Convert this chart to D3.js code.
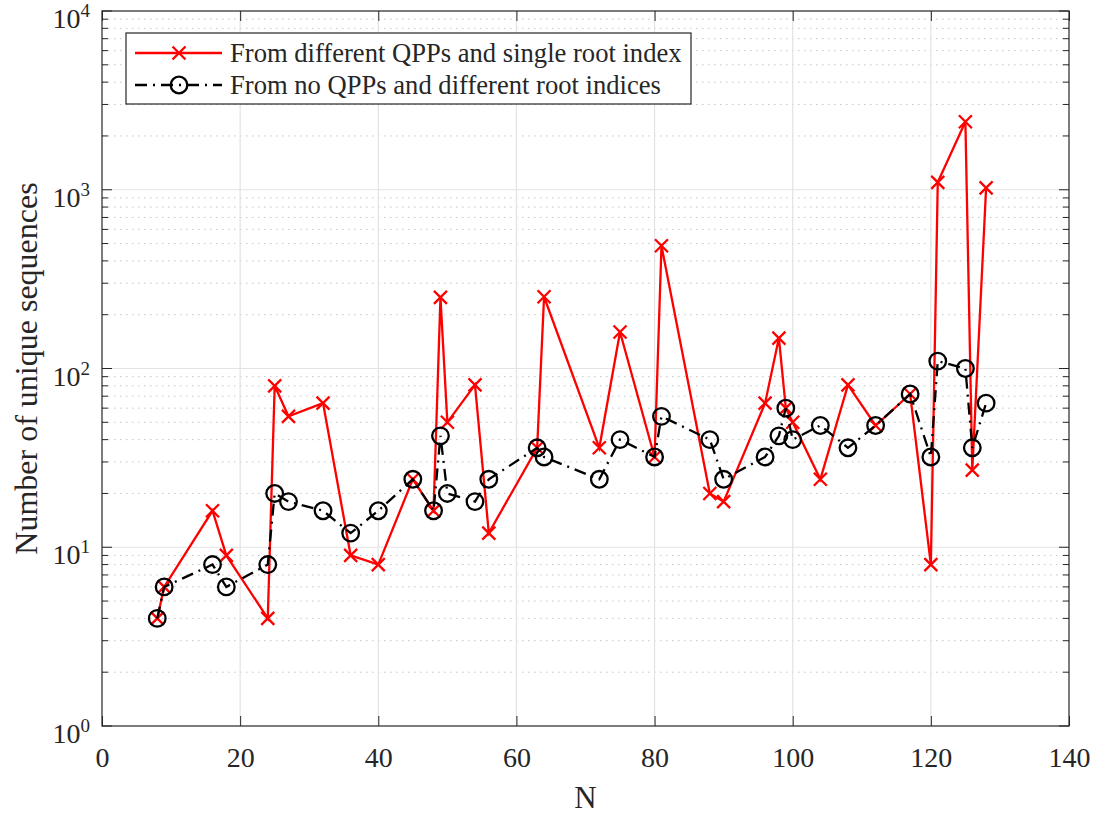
<!DOCTYPE html>
<html>
<head>
<meta charset="utf-8">
<script src="https://cdn.jsdelivr.net/npm/d3@7"></script>
<style>
  body { margin: 0; background: #fff; }
  text { font-family: "Liberation Serif", "Times New Roman", serif; fill: #262626; }
</style>
</head>
<body>
<svg id="chart" width="1098" height="815"></svg>
<script>
// N values and the two series
const nVals = [8, 9, 16, 18, 24, 25, 27, 32, 36, 40, 45, 48, 49, 50, 54, 56, 63, 64, 72, 75,
               80, 81, 88, 90, 96, 98, 99, 100, 104, 108, 112, 117, 120, 121, 125, 126, 128];
const qppVals = [4, 6, 16, 9, 4, 80, 54, 64, 9, 8, 24, 16, 250, 50, 81, 12, 36, 252, 36, 160,
                 32, 486, 20, 18, 64, 148, 60, 50, 24, 81, 48, 72, 8, 1100, 2400, 27, 1024];
const rootVals = [4, 6, 8, 6, 8, 20, 18, 16, 12, 16, 24, 16, 42, 20, 18, 24, 36, 32, 24, 40,
                  32, 54, 40, 24, 32, 42, 60, 40, 48, 36, 48, 72, 32, 110, 100, 36, 64];
const xTicks = [0, 20, 40, 60, 80, 100, 120, 140];
const yExps = [0, 1, 2, 3, 4];
const seriesNames = ["From different QPPs and single root index", "From no QPPs and different root indices"];

const svg = d3.select("#chart");
const pl = 102, pr = 1069, pt = 11, pb = 726;
const axisCol = "#262626";
const serif = '"Liberation Serif", "Times New Roman", serif';

const x = d3.scaleLinear().domain([0, 140]).range([pl, pr]);
const y = d3.scaleLog().domain([1, 1e4]).range([pb, pt]);

const minorVals = [];
yExps.slice(0, -1).forEach(e => {
  for (let m = 2; m <= 9; m++) minorVals.push(m * Math.pow(10, e));
});

// grid
const grid = svg.append("g");
grid.selectAll(".minor")
  .data(minorVals)
  .join("line")
    .attr("x1", pl).attr("x2", pr)
    .attr("y1", d => y(d)).attr("y2", d => y(d))
    .attr("stroke", "#c4c4c4")
    .attr("stroke-width", 1)
    .attr("stroke-dasharray", "1.5,4.5");
grid.selectAll(".vmaj")
  .data(xTicks.slice(1, -1))
  .join("line")
    .attr("x1", d => x(d)).attr("x2", d => x(d))
    .attr("y1", pt).attr("y2", pb)
    .attr("stroke", "#e3e3e3")
    .attr("stroke-width", 1.2);
grid.selectAll(".hmaj")
  .data(yExps.slice(1, -1))
  .join("line")
    .attr("x1", pl).attr("x2", pr)
    .attr("y1", d => y(Math.pow(10, d))).attr("y2", d => y(Math.pow(10, d)))
    .attr("stroke", "#e3e3e3")
    .attr("stroke-width", 1.2);

// x axes (ticks inside)
const xAxis = svg.append("g")
  .attr("transform", `translate(0,${pb})`)
  .call(d3.axisBottom(x).tickValues(xTicks).tickSizeInner(-10).tickSizeOuter(0).tickPadding(21));
xAxis.attr("font-family", serif).attr("font-size", 28);
xAxis.select(".domain").remove();
xAxis.selectAll(".tick line").attr("stroke", axisCol);
xAxis.selectAll(".tick text")
  .style("font-size", "28px")
  .style("font-family", serif)
  .attr("fill", axisCol);

const xTop = svg.append("g")
  .attr("transform", `translate(0,${pt})`)
  .call(d3.axisTop(x).tickValues(xTicks).tickSizeInner(-10).tickSizeOuter(0).tickFormat(""));
xTop.select(".domain").remove();
xTop.selectAll(".tick line").attr("stroke", axisCol);

// y ticks, both sides
const yTickG = svg.append("g");
yTickG.selectAll(".ymaj")
  .data(yExps.flatMap(e => [[e, pl, 10], [e, pr, -10]]))
  .join("line")
    .attr("x1", d => d[1]).attr("x2", d => d[1] + d[2])
    .attr("y1", d => y(Math.pow(10, d[0]))).attr("y2", d => y(Math.pow(10, d[0])))
    .attr("stroke", axisCol);
yTickG.selectAll(".ymin")
  .data(minorVals.flatMap(v => [[v, pl, 6], [v, pr, -6]]))
  .join("line")
    .attr("x1", d => d[1]).attr("x2", d => d[1] + d[2])
    .attr("y1", d => y(d[0])).attr("y2", d => y(d[0]))
    .attr("stroke", axisCol);

const yLab = yTickG.selectAll(".ylab")
  .data(yExps)
  .join("text")
    .attr("x", pl - 12)
    .attr("y", d => y(Math.pow(10, d)) + 17)
    .attr("text-anchor", "end")
    .style("font-size", "28px");
yLab.append("tspan").text("10");
yLab.append("tspan")
  .attr("dy", -11)
  .style("font-size", "19px")
  .text(d => d);

// frame
svg.append("rect")
  .attr("x", pl).attr("y", pt)
  .attr("width", pr - pl).attr("height", pb - pt)
  .attr("fill", "none")
  .attr("stroke", axisCol)
  .attr("stroke-width", 1.2);

// axis labels
svg.append("text")
  .attr("x", (pl + pr) / 2)
  .attr("y", 808)
  .attr("text-anchor", "middle")
  .style("font-size", "31px")
  .text("N");
svg.append("text")
  .attr("transform", `translate(37,${(pt + pb) / 2}) rotate(-90)`)
  .attr("text-anchor", "middle")
  .style("font-size", "32px")
  .text("Number of unique sequences");

// series
const qpp = nVals.map((n, i) => ({ n: n, v: qppVals[i] }));
const root = nVals.map((n, i) => ({ n: n, v: rootVals[i] }));
const line = d3.line().x(d => x(d.n)).y(d => y(d.v));

const xMark = s => `M${-s},${-s}L${s},${s}M${-s},${s}L${s},${-s}`;

svg.append("path")
  .datum(qpp)
  .attr("d", line)
  .attr("fill", "none")
  .attr("stroke", "#ff0000")
  .attr("stroke-width", 2.3);
svg.selectAll(".xm")
  .data(qpp)
  .join("path")
    .attr("transform", d => `translate(${x(d.n)},${y(d.v)})`)
    .attr("d", xMark(6.5))
    .attr("stroke", "#ff0000")
    .attr("stroke-width", 2.3);

svg.append("path")
  .datum(root)
  .attr("d", line)
  .attr("fill", "none")
  .attr("stroke", "#000")
  .attr("stroke-width", 2.3)
  .attr("stroke-dasharray", "12,6,2,6");
svg.selectAll(".om")
  .data(root)
  .join("circle")
    .attr("cx", d => x(d.n))
    .attr("cy", d => y(d.v))
    .attr("r", 8.3)
    .attr("fill", "none")
    .attr("stroke", "#000")
    .attr("stroke-width", 2.3);

// legend
const lg = svg.append("g");
lg.append("rect")
  .attr("x", 126).attr("y", 33)
  .attr("width", 565).attr("height", 71)
  .attr("fill", "#fff")
  .attr("stroke", axisCol)
  .attr("stroke-width", 1.2);
const rows = [53, 85];
lg.append("line")
  .attr("x1", 135).attr("x2", 222).attr("y1", rows[0]).attr("y2", rows[0])
  .attr("stroke", "#ff0000").attr("stroke-width", 2.3);
lg.append("path")
  .attr("transform", `translate(179,${rows[0]})`)
  .attr("d", xMark(6.5))
  .attr("stroke", "#ff0000").attr("stroke-width", 2.3);
lg.append("line")
  .attr("x1", 135).attr("x2", 222).attr("y1", rows[1]).attr("y2", rows[1])
  .attr("stroke", "#000").attr("stroke-width", 2.3)
  .attr("stroke-dasharray", "12,6,2,6");
lg.append("circle")
  .attr("cx", 179).attr("cy", rows[1]).attr("r", 8.3)
  .attr("fill", "none").attr("stroke", "#000").attr("stroke-width", 2.3);
lg.selectAll(".lt")
  .data(seriesNames)
  .join("text")
    .attr("x", 230)
    .attr("y", (d, i) => rows[i] + 9)
    .style("font-size", "26.6px")
    .text(d => d);
</script>
</body>
</html>
